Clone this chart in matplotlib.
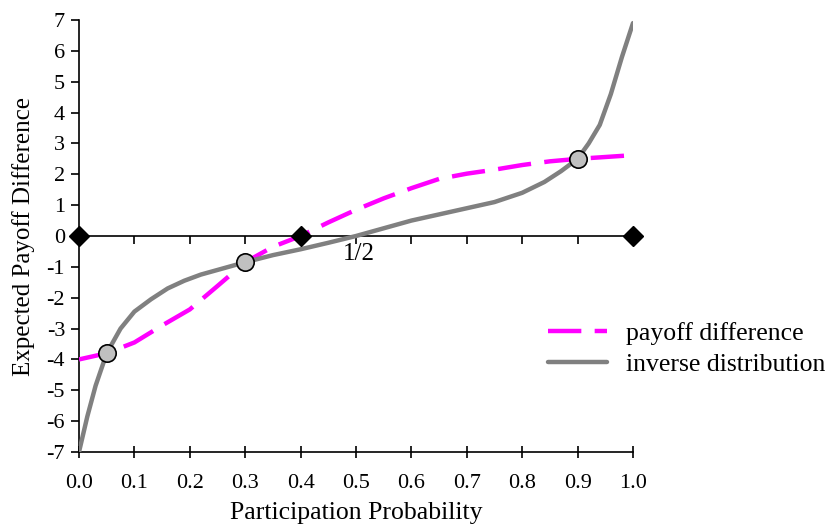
import matplotlib
matplotlib.use("Agg")
import matplotlib.pyplot as plt
import numpy as np

plt.rcParams['font.family'] = ['Liberation Serif', 'DejaVu Serif']

# Data
x_pay = [0, 0.05, 0.1, 0.15, 0.2, 0.25, 0.3, 0.35, 0.4, 0.45, 0.5, 0.55, 0.6,
         0.65, 0.7, 0.75, 0.8, 0.85, 0.9, 0.95, 1.0]
y_pay = [-4.0, -3.8, -3.45, -2.9, -2.38, -1.62, -0.85, -0.35, 0.0, 0.44, 0.85,
         1.22, 1.55, 1.85, 2.02, 2.15, 2.3, 2.42, 2.5, 2.56, 2.62]

x_inv = [0, 0.015, 0.03, 0.05, 0.075, 0.1, 0.13, 0.16, 0.19, 0.22, 0.25, 0.3,
         0.35, 0.4, 0.45, 0.5, 0.55, 0.6, 0.65, 0.7, 0.75, 0.8, 0.84, 0.87,
         0.9, 0.92, 0.94, 0.96, 0.98, 1.0]
y_inv = [-7.0, -5.85, -4.85, -3.8, -3.0, -2.45, -2.05, -1.7, -1.45, -1.25,
         -1.1, -0.85, -0.62, -0.43, -0.22, 0.0, 0.25, 0.5, 0.7, 0.9, 1.1, 1.4,
         1.75, 2.1, 2.5, 3.0, 3.6, 4.6, 5.8, 6.9]

x_eq = [0.05, 0.3, 0.9]
y_eq = [-3.8, -0.85, 2.5]

x_dia = [0.0, 0.4, 1.0]
y_dia = [0.0, 0.0, 0.0]

x_ticks = [0.0, 0.1, 0.2, 0.3, 0.4, 0.5, 0.6, 0.7, 0.8, 0.9, 1.0]
x_ticklabels = ["0.0", "0.1", "0.2", "0.3", "0.4", "0.5", "0.6", "0.7", "0.8", "0.9", "1.0"]
y_ticks = [-7, -6, -5, -4, -3, -2, -1, 0, 1, 2, 3, 4, 5, 6, 7]

fig = plt.figure(figsize=(8.28, 5.27), dpi=100)
ax = fig.add_axes([79/828, 1-452/527, (633-79)/828, (452-20)/527])

ax.set_xlim(0, 1)
ax.set_ylim(-7, 7)

# zero line with downward ticks
ax.axhline(0, color='black', lw=1.2, zorder=2)
ax.plot(x_ticks, [0]*len(x_ticks), linestyle='none', marker=3, markersize=6,
        markeredgewidth=1.2, color='black', zorder=2, clip_on=False)

ax.plot(x_pay, y_pay, color='#ff00ff', lw=3.2, dashes=(7.5, 3), zorder=3,
        label='payoff difference', solid_capstyle='butt')
ax.plot(x_inv, y_inv, color='#808080', lw=3.2, zorder=4,
        label='inverse distribution', solid_capstyle='round')

ax.plot(x_eq, y_eq, linestyle='none', marker='o', markersize=12.5,
        markerfacecolor='#c0c0c0', markeredgecolor='black', markeredgewidth=1.2,
        zorder=6)
ax.plot(x_dia, y_dia, linestyle='none', marker='D', markersize=10,
        color='black', zorder=6, clip_on=False)

ax.text(0.505, -0.58, "1/2", fontsize=18, ha='center', va='center')

for s in ['top', 'right']:
    ax.spines[s].set_visible(False)
ax.spines['left'].set_linewidth(1.2)
ax.spines['bottom'].set_linewidth(1.2)

ax.set_xticks(x_ticks)
ax.set_xticklabels(x_ticklabels)
ax.set_yticks(y_ticks)
ax.set_yticklabels([str(v) for v in y_ticks])
ax.tick_params(axis='x', direction='inout', length=8, width=1.2, labelsize=16, pad=12)
ax.tick_params(axis='y', direction='out', length=6, width=1.2, labelsize=16, pad=4)

ax.set_xlabel("Participation Probability", fontsize=18.5, labelpad=6)
ax.set_ylabel("Expected Payoff Difference", fontsize=18, labelpad=8)

leg = fig.legend(loc='center left', bbox_to_anchor=(525/828, 1-349/527),
                 frameon=False, fontsize=18.5, handlelength=2.3, handletextpad=0.75,
                 labelspacing=0.32)

fig.savefig("out.png", dpi=100)
